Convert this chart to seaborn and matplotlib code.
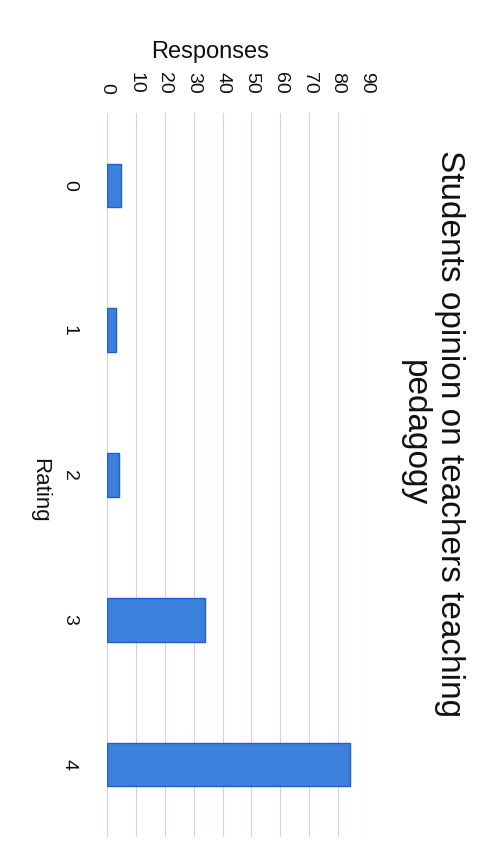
import pandas as pd
import matplotlib
matplotlib.use('Agg')
import matplotlib.pyplot as plt
import seaborn as sns

ratings = ['0', '1', '2', '3', '4']
responses = [5, 3, 4, 34, 84]
value_ticks = [0, 10, 20, 30, 40, 50, 60, 70, 80, 90]

df = pd.DataFrame({'Rating': ratings, 'Responses': responses})

sns.set_style('white')
plt.rcParams['font.family'] = ['Liberation Sans', 'DejaVu Sans']
plt.rcParams['text.color'] = '#111111'
plt.rcParams['xtick.color'] = '#111111'
plt.rcParams['ytick.color'] = '#111111'
plt.rcParams['axes.labelcolor'] = '#111111'

fig = plt.figure(figsize=(5.01, 8.61), dpi=100)
ax = fig.add_axes([107 / 501, 1 - 837 / 861, 260 / 501, 724 / 861])

sns.barplot(data=df, x='Responses', y='Rating', orient='h', order=ratings,
            width=0.3, color='#3d80dc', edgecolor='#1f5fd2', linewidth=1.0,
            saturation=1, ax=ax)

ax.set_xlim(0, 90)
ax.set_xticks(value_ticks)
ax.xaxis.tick_top()
ax.tick_params(axis='x', labelrotation=-90, length=0, pad=14, labelsize=14)
ax.tick_params(axis='y', labelrotation=-90, length=0, pad=21, labelsize=14)
for lbl in ax.get_yticklabels():
    lbl.set_va('center')

ax.grid(axis='x', color='#ddd0d0', linewidth=0.8)
ax.grid(axis='y', visible=False)
ax.set_axisbelow(True)
for s in ax.spines.values():
    s.set_visible(False)

ax.xaxis.set_label_position('top')
ax.set_xlabel('Responses', fontsize=17, va='center')
ax.xaxis.set_label_coords(0.396, 1.084)
ax.set_ylabel('Rating', fontsize=16, rotation=-90, va='center', ha='center')
ax.yaxis.set_label_coords(-0.26, 0.479)

fig.text(0.862, 0.497, 'Students opinion on teachers teaching\npedagogy',
         rotation=-90, ha='center', va='center', multialignment='center',
         fontsize=24, linespacing=1.15)

fig.savefig('out.png', dpi=100, facecolor='white')
